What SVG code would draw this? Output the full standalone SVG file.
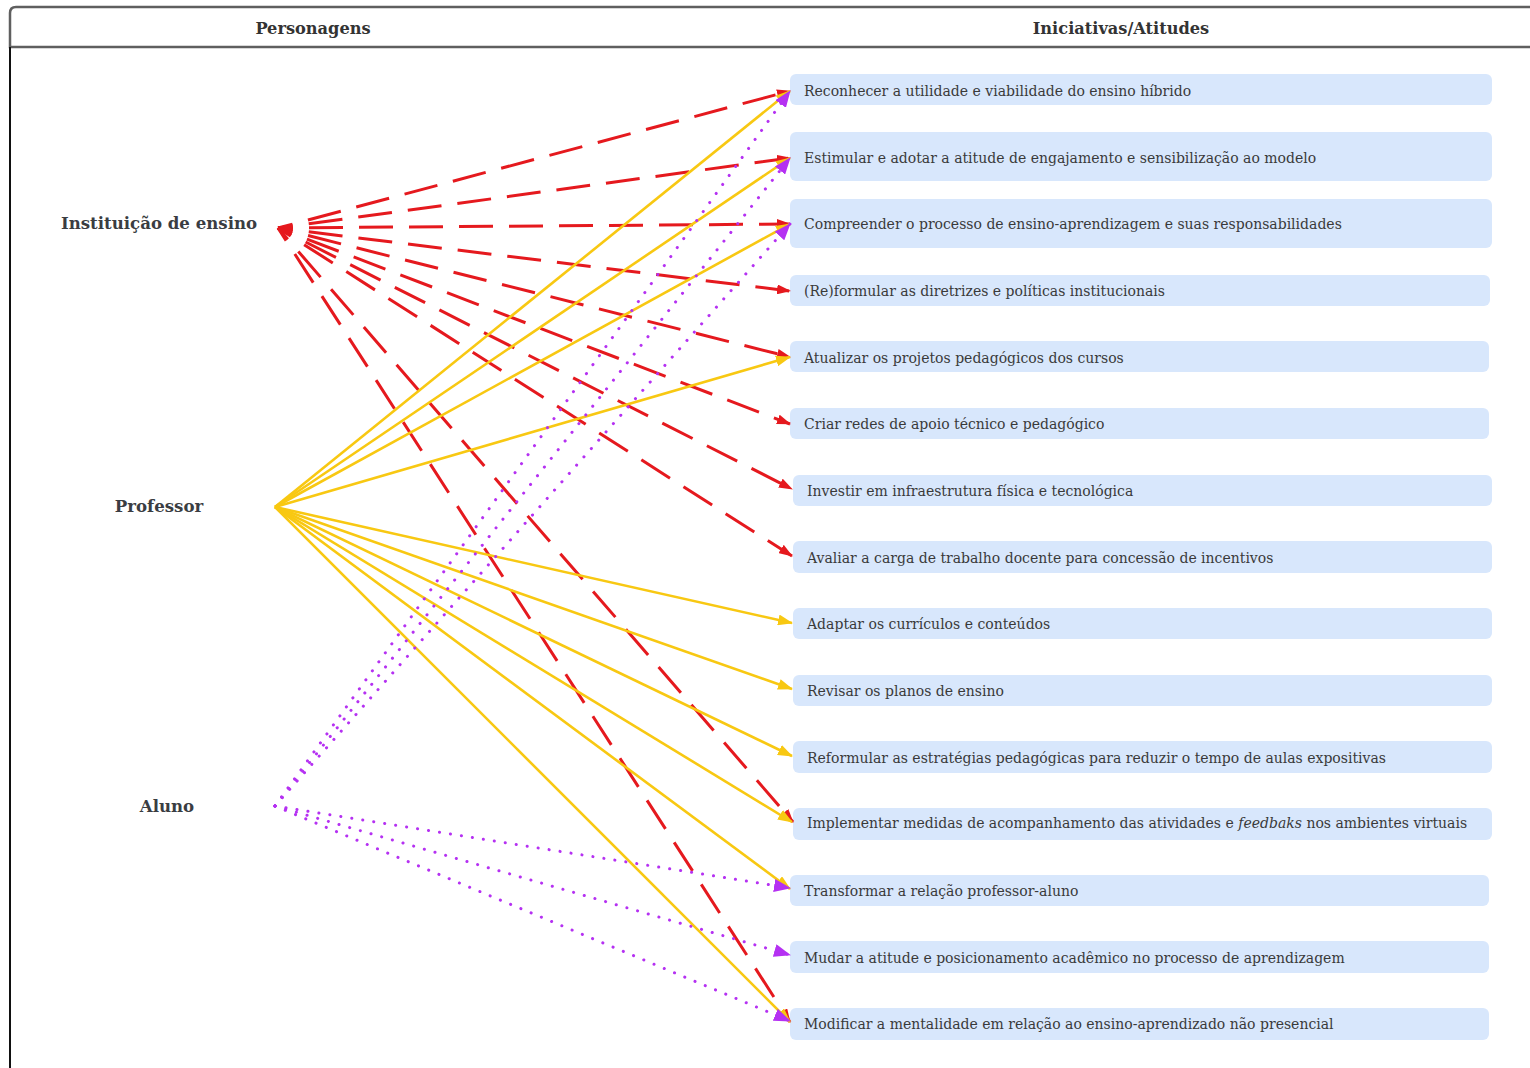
<svg xmlns="http://www.w3.org/2000/svg" width="1530" height="1068" viewBox="0 0 1530 1068">
  <style>
    .head { font-family: "DejaVu Serif", "Liberation Serif", serif; font-weight: bold; font-size: 16.2px; fill: #333; }
    .actor { font-family: "DejaVu Serif", "Liberation Serif", serif; font-weight: bold; font-size: 16.6px; fill: #3a3d42; }
    .box rect { fill: #d8e7fc; }
    .box text { font-family: "DejaVu Serif", "Liberation Serif", serif; font-size: 14px; fill: #3a3a3a; }
    .inst { fill: none; stroke: #e5191e; stroke-width: 3; stroke-dasharray: 34 16; stroke-dashoffset: 19; }
    .prof { fill: none; stroke: #f8c812; stroke-width: 2.6; }
    .alun { fill: none; stroke: #b531f2; stroke-width: 3; stroke-linecap: round; stroke-dasharray: 0.1 11; }
  </style>
  <defs>
    <marker id="ahRed" viewBox="0 0 14 10" refX="13" refY="5" markerWidth="14" markerHeight="10" markerUnits="userSpaceOnUse" orient="auto">
      <path d="M0,0 L14,5 L0,10 z" fill="#e5191e"/>
    </marker>
    <marker id="ahYellow" viewBox="0 0 15 11" refX="14" refY="5.5" markerWidth="15" markerHeight="11" markerUnits="userSpaceOnUse" orient="auto">
      <path d="M0,0 L15,5.5 L0,11 z" fill="#f8c812"/>
    </marker>
    <marker id="ahPurple" viewBox="0 0 17 13" refX="16" refY="6.5" markerWidth="17" markerHeight="13" markerUnits="userSpaceOnUse" orient="auto">
      <path d="M0,0 L17,6.5 L0,13 z" fill="#b531f2"/>
    </marker>
  </defs>

  <!-- table frame: header band and left rule -->
  <g id="frame">
    <path d="M1532,7 L16,7 Q10,7 10,13 L10,47 L1532,47" fill="#fff" stroke="#5f5f5f" stroke-width="2.5"/>
    <line x1="10" y1="47" x2="10" y2="1068" stroke="#111" stroke-width="2"/>
    <text class="head" x="313" y="34" text-anchor="middle">Personagens</text>
    <text class="head" x="1121" y="34" text-anchor="middle">Iniciativas/Atitudes</text>
  </g>

  <!-- actors -->
  <g id="actor-instituicao"><text class="actor" x="159" y="229" text-anchor="middle">Instituição de ensino</text></g>
  <g id="actor-professor"><text class="actor" x="159" y="512" text-anchor="middle">Professor</text></g>
  <g id="actor-aluno"><text class="actor" x="167" y="812" text-anchor="middle">Aluno</text></g>

  <!-- initiatives -->
  <g id="i01" class="box"><rect x="790" y="74" width="702" height="31" rx="6"/><text x="804" y="96">Reconhecer a utilidade e viabilidade do ensino híbrido</text></g>
  <g id="i02" class="box"><rect x="790" y="132" width="702" height="49" rx="6"/><text x="804" y="163">Estimular e adotar a atitude de engajamento e sensibilização ao modelo</text></g>
  <g id="i03" class="box"><rect x="790" y="199" width="702" height="49" rx="6"/><text x="804" y="229">Compreender o processo de ensino-aprendizagem e suas responsabilidades</text></g>
  <g id="i04" class="box"><rect x="790" y="275" width="700" height="31" rx="6"/><text x="804" y="296">(Re)formular as diretrizes e políticas institucionais</text></g>
  <g id="i05" class="box"><rect x="790" y="341" width="699" height="31" rx="6"/><text x="804" y="363">Atualizar os projetos pedagógicos dos cursos</text></g>
  <g id="i06" class="box"><rect x="790" y="408" width="699" height="31" rx="6"/><text x="804" y="429">Criar redes de apoio técnico e pedagógico</text></g>
  <g id="i07" class="box"><rect x="793" y="475" width="699" height="31" rx="6"/><text x="807" y="496">Investir em infraestrutura física e tecnológica</text></g>
  <g id="i08" class="box"><rect x="793" y="541" width="699" height="32" rx="6"/><text x="807" y="563">Avaliar a carga de trabalho docente para concessão de incentivos</text></g>
  <g id="i09" class="box"><rect x="793" y="608" width="699" height="31" rx="6"/><text x="807" y="629">Adaptar os currículos e conteúdos</text></g>
  <g id="i10" class="box"><rect x="793" y="675" width="699" height="31" rx="6"/><text x="807" y="696">Revisar os planos de ensino</text></g>
  <g id="i11" class="box"><rect x="793" y="741" width="699" height="32" rx="6"/><text x="807" y="763">Reformular as estratégias pedagógicas para reduzir o tempo de aulas expositivas</text></g>
  <g id="i12" class="box"><rect x="793" y="808" width="699" height="32" rx="6"/><text x="807" y="828">Implementar medidas de acompanhamento das atividades e <tspan font-style="italic">feedbaks</tspan> nos ambientes virtuais</text></g>
  <g id="i13" class="box"><rect x="790" y="875" width="699" height="31" rx="6"/><text x="804" y="896">Transformar a relação professor-aluno</text></g>
  <g id="i14" class="box"><rect x="790" y="941" width="699" height="32" rx="6"/><text x="804" y="963">Mudar a atitude e posicionamento acadêmico no processo de aprendizagem</text></g>
  <g id="i15" class="box"><rect x="790" y="1008" width="699" height="32" rx="6"/><text x="804" y="1029">Modificar a mentalidade em relação ao ensino-aprendizado não presencial</text></g>

  <!-- connectors -->
  <g id="connectors">
    <!-- Instituição de ensino -->
    <g class="inst" marker-end="url(#ahRed)">
      <line x1="278" y1="228" x2="790" y2="91"/>
      <line x1="278" y1="228" x2="790" y2="158"/>
      <line x1="278" y1="228" x2="790" y2="224"/>
      <line x1="278" y1="228" x2="790" y2="291"/>
      <line x1="278" y1="228" x2="790" y2="357"/>
      <line x1="278" y1="228" x2="790" y2="424"/>
      <line x1="278" y1="228" x2="792" y2="489"/>
      <line x1="278" y1="228" x2="792" y2="556"/>
      <line x1="278" y1="228" x2="793" y2="822"/>
      <line x1="278" y1="228" x2="790" y2="1022"/>
    </g>
    <!-- Professor -->
    <g class="prof" marker-end="url(#ahYellow)">
      <line x1="275" y1="507" x2="790" y2="91"/>
      <line x1="275" y1="507" x2="790" y2="158"/>
      <line x1="275" y1="507" x2="790" y2="224"/>
      <line x1="275" y1="507" x2="790" y2="357"/>
      <line x1="275" y1="507" x2="792" y2="623"/>
      <line x1="275" y1="507" x2="792" y2="689"/>
      <line x1="275" y1="507" x2="792" y2="756"/>
      <line x1="275" y1="507" x2="792" y2="822"/>
      <line x1="275" y1="507" x2="790" y2="889"/>
      <line x1="275" y1="507" x2="790" y2="1022"/>
    </g>
    <!-- Aluno -->
    <g class="alun" marker-end="url(#ahPurple)">
      <line x1="275" y1="806" x2="790" y2="91"/>
      <line x1="275" y1="806" x2="790" y2="158"/>
      <line x1="275" y1="806" x2="790" y2="224"/>
      <line x1="275" y1="806" x2="790" y2="888"/>
      <line x1="275" y1="806" x2="790" y2="955"/>
      <line x1="275" y1="806" x2="790" y2="1021"/>
    </g>
  </g>
</svg>
